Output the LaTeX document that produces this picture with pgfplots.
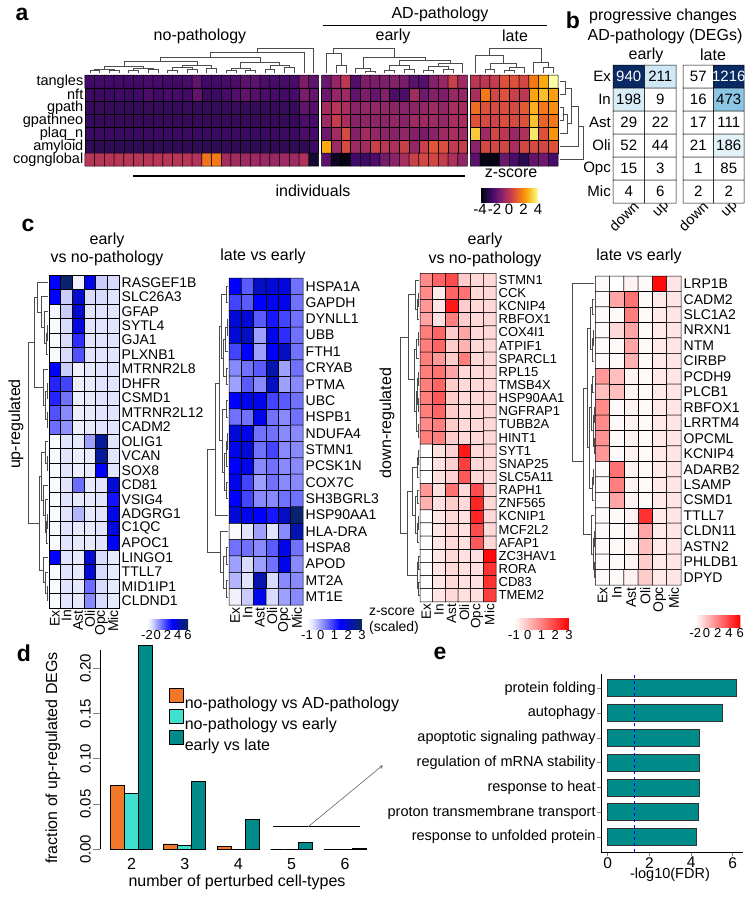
\documentclass[border=0pt]{standalone}
\usepackage{fontspec}
\setmainfont{Liberation Sans}
\usepackage{pgfplots}
\pgfplotsset{compat=1.18}
\usetikzlibrary{calc}

\newcommand{\fz}[1]{\fontsize{#1}{#1}\selectfont}
\definecolor{orR}{RGB}{240,120,40}
\definecolor{turq}{RGB}{64,224,208}
\definecolor{dcyan}{RGB}{0,139,139}
\tikzset{dendro/.style={black!70, line width=0.6pt}}

% dendrogram links: pos a, height a, pos b, height b, join height (heights in px)
\newcommand{\cl}[5]{\draw[dendro] (#1,{\cz-\cs*(#2)}) -- (#1,{\cz-\cs*(#5)}) -- (#3,{\cz-\cs*(#5)}) -- (#3,{\cz-\cs*(#4)});}
\newcommand{\rl}[5]{\draw[dendro] ({\rz-\rs*(#2)},#1) -- ({\rz-\rs*(#5)},#1) -- ({\rz-\rs*(#5)},#3) -- ({\rz-\rs*(#4)},#3);}
\newcommand{\rr}[5]{\draw[dendro] ({\rz+\rs*(#2)},#1) -- ({\rz+\rs*(#5)},#1) -- ({\rz+\rs*(#5)},#3) -- ({\rz+\rs*(#4)},#3);}
\newcommand{\cnum}[3]{\node[font=\fz{15}] at (axis cs:#1,#2) {#3};}
\newcommand{\wnum}[3]{\node[font=\fz{15}, text=white] at (axis cs:#1,#2) {#3};}

\pgfplotsset{
  /pgf/number format/assume math mode=true,
  colormap={inferno}{rgb255=(0,0,4) rgb255=(22,11,57) rgb255=(66,10,104) rgb255=(106,23,110) rgb255=(147,38,103) rgb255=(188,55,84) rgb255=(221,81,58) rgb255=(243,120,25) rgb255=(252,165,10) rgb255=(246,215,70) rgb255=(252,255,164)},
  colormap={blues}{rgb255(0cm)=(255,255,255) rgb255(1cm)=(225,228,252) rgb255(6cm)=(0,0,255) rgb255(10cm)=(10,40,90)},
  colormap={reds}{rgb255=(255,255,255) rgb255=(255,0,0)},
  colormap={degs}{rgb255(0cm)=(255,255,255) rgb255(1.5cm)=(255,255,255) rgb255(2.1cm)=(208,232,245) rgb255(4.7cm)=(140,200,230) rgb255(9cm)=(10,42,100) rgb255(12.16cm)=(10,42,100)},
  hm/.style={scale only axis, anchor=north west, y dir=reverse, axis line style={draw=none},
    major tick length=0pt, clip=false, enlargelimits=false},
  cells/.style={matrix plot*, mesh/ordering=x varies, mesh/cols=#1, point meta=explicit,
    shader=faceted, faceted color=black, line width=0.5pt},
  cb/.style n args={4}{colorbar horizontal, colorbar style={at={($(parent axis.south west)+(#1pt,#2pt)$)},
    anchor=north west, scale only axis, width=#3pt, height=#4pt, axis line style={draw=none},
    major tick length=0pt, xticklabel style={font=\fz{13}, inner sep=1pt}}},
}

\begin{document}
\begin{tikzpicture}[font=\fz{14}]
\path[use as bounding box] (0,0) rectangle (754pt,-900pt);

%% ---------- a ----------
\def\cz{-0.5}\def\cs{0.0769}
\def\rz{48.1}\def\rs{0.1028}
\begin{axis}[hm, at={(85pt,-75pt)}, width=473pt, height=91pt,
  xmin=-0.5, xmax=48.1, ymin=-0.5, ymax=6.5, xtick=\empty,
  ytick={0,...,6}, yticklabels={tangles,nft,gpath,gpathneo,plaq\_n,amyloid,cognglobal},
  yticklabel style={font=\fz{14.5}, inner sep=1.5pt},
  colormap name=inferno, point meta min=-4, point meta max=4,
  cb={395}{-14}{58}{14}, colorbar style={xtick={-4,-2,0,2,4}, xticklabel style={font=\fz{15}}}]
% no-pathology
\addplot[cells=24] table[row sep=\\, meta=z, x expr={\coordindex-24*floor((\coordindex+0.5)/24)}, y expr={floor((\coordindex+0.5)/24)}] {
z\\
-2.4\\-2.4\\-2.4\\-2.4\\-2.4\\-2.4\\-2.3\\-2.3\\-2.4\\-2.4\\-2.3\\-1.8\\-2.4\\-2.4\\-2.3\\-2.2\\-1.9\\-1.9\\-2.2\\-2.3\\-2.3\\-2.3\\-1.2\\-1.8\\
-2.5\\-2.5\\-2.5\\-2.4\\-2.5\\-2.4\\-2.2\\-2.4\\-2.3\\-2.3\\-2.4\\-1.8\\-2.5\\-2.5\\-2.3\\-2.1\\-1.8\\-2.0\\-2.2\\-2.3\\-2.4\\-2.3\\-1.3\\-1.7\\
-2.6\\-2.6\\-2.6\\-2.6\\-2.6\\-2.6\\-2.6\\-2.6\\-2.6\\-2.6\\-2.6\\-2.6\\-2.6\\-2.6\\-2.6\\-2.6\\-2.6\\-2.6\\-2.6\\-2.6\\-2.6\\-2.6\\-1.8\\-2.0\\
-2.6\\-2.6\\-2.6\\-2.6\\-2.6\\-2.6\\-2.6\\-2.6\\-2.6\\-2.6\\-2.6\\-2.6\\-2.6\\-2.6\\-2.6\\-2.6\\-2.6\\-2.6\\-2.6\\-2.6\\-2.6\\-2.6\\-2.2\\-2.3\\
-2.5\\-2.5\\-2.5\\-2.5\\-2.5\\-2.5\\-2.5\\-2.5\\-2.5\\-2.5\\-2.5\\-2.5\\-2.5\\-2.5\\-2.5\\-2.5\\-2.5\\-2.5\\-2.5\\-2.5\\-2.5\\-2.5\\-2.2\\-2.3\\
-2.7\\-2.7\\-2.7\\-2.7\\-2.7\\-2.7\\-2.7\\-2.7\\-2.7\\-2.7\\-2.7\\-2.7\\-2.7\\-2.7\\-2.7\\-2.7\\-2.7\\-2.7\\-2.7\\-2.7\\-2.7\\-2.7\\-2.7\\-2.5\\
-0.1\\-0.1\\-0.1\\-0.1\\-0.1\\-0.1\\-0.1\\-0.1\\-0.1\\-0.1\\-0.1\\-0.2\\1.5\\1.6\\-0.5\\-0.5\\-0.6\\-0.6\\-0.7\\-0.7\\-0.6\\-0.6\\-0.3\\-3.3\\
};
% early
\addplot[cells=15] table[row sep=\\, meta=z, x expr={\coordindex-15*floor((\coordindex+0.5)/15)+24.3}, y expr={floor((\coordindex+0.5)/15)}] {
z\\
-1.6\\-0.8\\0.0\\-2.1\\-1.2\\-1.3\\-1.2\\-1.1\\-1.3\\-1.9\\-2.0\\-1.1\\-0.7\\0.3\\-0.6\\
-1.6\\-0.8\\-0.6\\-1.8\\-1.2\\-1.7\\-1.1\\-2.2\\-2.2\\-0.5\\-1.5\\-1.1\\-1.2\\-0.7\\-0.8\\
-0.5\\-0.1\\-0.4\\-1.0\\-0.8\\-0.8\\-0.8\\-0.9\\-1.0\\-0.9\\-0.8\\-0.6\\-0.8\\-0.4\\-0.5\\
-0.6\\0.2\\-0.4\\-1.0\\-0.9\\-0.9\\-0.9\\-0.8\\-1.0\\-0.6\\-0.6\\-0.6\\-0.8\\-0.4\\-0.4\\
-1.5\\-0.5\\0.6\\-1.1\\-0.5\\-0.8\\-0.9\\-1.0\\-0.8\\-1.1\\-1.3\\-1.0\\-0.6\\-0.4\\-0.6\\
2.5\\-0.6\\0.6\\-0.6\\-0.5\\0.3\\0.0\\-0.3\\0.3\\-0.8\\0.3\\0.9\\0.7\\0.1\\0.2\\
-1.9\\-3.6\\-3.8\\-2.4\\-2.5\\-2.2\\-1.4\\-1.0\\-0.4\\0.3\\0.5\\0.5\\0.2\\-0.3\\-0.8\\
};
% late
\addplot[cells=9] table[row sep=\\, meta=z, x expr={\coordindex-9*floor((\coordindex+0.5)/9)+39.6}, y expr={floor((\coordindex+0.5)/9)}] {
z\\
0.0\\0.0\\0.2\\0.8\\0.8\\0.5\\1.6\\2.5\\4.0\\
-0.4\\1.6\\0.5\\0.8\\0.3\\0.0\\2.4\\2.8\\2.3\\
1.4\\0.8\\0.6\\0.7\\0.6\\1.0\\2.6\\1.6\\2.0\\
0.8\\0.6\\0.4\\0.7\\0.6\\0.8\\2.9\\1.2\\1.6\\
3.0\\-0.6\\0.5\\0.0\\-0.7\\-0.3\\3.5\\0.8\\2.1\\
-1.0\\0.5\\0.5\\0.5\\-0.4\\0.5\\0.6\\0.5\\0.8\\
-1.9\\-3.7\\-3.7\\-1.6\\-2.3\\-2.8\\-1.8\\-1.5\\-2.3\\
};
% column dendrograms
\cl{0}{2}{1}{2}{4.5}\cl{2}{2}{3}{2}{4.5}\cl{0.5}{4.5}{2.5}{4.5}{5.5}
\cl{4}{2}{5}{2}{5}\cl{6}{2}{7}{2}{6}\cl{4.5}{5}{6.5}{6}{7}\cl{1.5}{5.5}{5.5}{7}{9}
\cl{8}{2}{9}{2}{5}\cl{10}{2}{11}{2}{6}\cl{8.5}{5}{10.5}{6}{8}\cl{12}{2}{13}{2}{7}
\cl{9.5}{8}{12.5}{7}{10}\cl{3.5}{9}{11}{10}{14}
\cl{14}{2}{15}{2}{5}\cl{16}{2}{17}{2}{5}\cl{14.5}{5}{16.5}{5}{7}
\cl{18}{2}{19}{2}{6}\cl{20}{2}{21}{2}{8}\cl{18.5}{6}{20.5}{8}{10}\cl{15.5}{7}{19.5}{10}{13}
\cl{7.25}{14}{17.5}{13}{18}\cl{12.375}{18}{22}{2}{23}\cl{17.19}{23}{23}{2}{27}
\cl{25.3}{2}{26.3}{2}{10}\cl{24.3}{2}{25.8}{10}{22}
\cl{28.3}{2}{29.3}{2}{4}\cl{27.3}{2}{28.8}{4}{7}
\cl{30.3}{2}{31.3}{2}{5}\cl{32.3}{2}{33.3}{2}{6}\cl{30.8}{5}{32.8}{6}{10}
\cl{34.3}{2}{35.3}{2}{5}\cl{36.3}{2}{37.3}{2}{6}\cl{34.8}{5}{36.8}{6}{9}\cl{35.8}{9}{38.3}{2}{12}
\cl{31.8}{10}{37.05}{12}{15}\cl{28.05}{7}{34.425}{15}{18}\cl{25.05}{22}{31.24}{18}{27}
\cl{40.6}{2}{41.6}{2}{6}\cl{42.6}{2}{43.6}{2}{5}\cl{43.1}{5}{44.6}{2}{8}\cl{41.1}{6}{43.85}{8}{12}
\cl{39.6}{2}{42.475}{12}{20}\cl{46.6}{2}{47.6}{2}{8}\cl{45.6}{2}{47.1}{8}{13}\cl{41.04}{20}{46.35}{13}{27}
% row dendrogram
\rr{0}{2}{1}{2}{7}\rr{2}{2}{3}{2}{5}\rr{2.5}{5}{4}{2}{9}\rr{0.5}{7}{3.25}{9}{13}
\rr{1.875}{13}{5}{2}{20}\rr{3.44}{20}{6}{2}{25}
\end{axis}

%% ---------- b ----------
\begin{axis}[hm, at={(613pt,-65pt)}, width=63pt, height=138pt,
  xmin=-0.5, xmax=1.5, ymin=-0.5, ymax=5.5,
  xtick={0,1}, xticklabels={down,up}, xticklabel style={rotate=45, anchor=north east, xshift=5pt, font=\fz{14.5}, inner sep=0.5pt},
  ytick={0,...,5}, yticklabels={Ex,In,Ast,Oli,Opc,Mic}, yticklabel style={font=\fz{15}, inner sep=2pt},
  colormap name=degs, point meta min=0, point meta max=1216]
\addplot[cells=2] table[row sep=\\, meta=z, x expr={\coordindex-2*floor((\coordindex+0.5)/2)}, y expr={floor((\coordindex+0.5)/2)}] {
z\\ 940\\211\\ 198\\9\\ 29\\22\\ 52\\44\\ 15\\3\\ 4\\6\\
};
\wnum{0}{0}{940}\cnum{1}{0}{211}\cnum{0}{1}{198}\cnum{1}{1}{9}\cnum{0}{2}{29}\cnum{1}{2}{22}
\cnum{0}{3}{52}\cnum{1}{3}{44}\cnum{0}{4}{15}\cnum{1}{4}{3}\cnum{0}{5}{4}\cnum{1}{5}{6}
\end{axis}
\begin{axis}[hm, at={(683pt,-65pt)}, width=61pt, height=138pt,
  xmin=-0.5, xmax=1.5, ymin=-0.5, ymax=5.5,
  xtick={0,1}, xticklabels={down,up}, xticklabel style={rotate=45, anchor=north east, xshift=5pt, font=\fz{14.5}, inner sep=0.5pt},
  ytick=\empty,
  colormap name=degs, point meta min=0, point meta max=1216]
\addplot[cells=2] table[row sep=\\, meta=z, x expr={\coordindex-2*floor((\coordindex+0.5)/2)}, y expr={floor((\coordindex+0.5)/2)}] {
z\\ 57\\1216\\ 16\\473\\ 17\\111\\ 21\\186\\ 1\\85\\ 2\\2\\
};
\cnum{0}{0}{57}\wnum{1}{0}{1216}\cnum{0}{1}{16}\cnum{1}{1}{473}\cnum{0}{2}{17}\cnum{1}{2}{111}
\cnum{0}{3}{21}\cnum{1}{3}{186}\cnum{0}{4}{1}\cnum{1}{4}{85}\cnum{0}{5}{2}\cnum{1}{5}{2}
\end{axis}

%% ---------- c1: early vs no-pathology, up ----------
\def\rz{-0.5}\def\rs{0.0857}
\begin{axis}[hm, at={(49pt,-275pt)}, width=70pt, height=333pt,
  xmin=-0.5, xmax=5.5, ymin=-0.5, ymax=22.5,
  xtick={0,...,5}, xticklabels={Ex,In,Ast,Oli,Opc,Mic},
  xticklabel style={rotate=90, anchor=east, font=\fz{14}, inner sep=2pt},
  ytick={0,...,22}, yticklabel pos=right, yticklabel style={font=\fz{14}, inner sep=2.5pt},
  yticklabels={RASGEF1B,SLC26A3,GFAP,SYTL4,GJA1,PLXNB1,MTRNR2L8,DHFR,CSMD1,MTRNR2L12,CADM2,OLIG1,VCAN,SOX8,CD81,VSIG4,ADGRG1,C1QC,APOC1,LINGO1,TTLL7,MID1IP1,CLDND1},
  colormap name=blues, point meta min=0, point meta max=1,
  cb={98}{-3}{41}{10}, colorbar style={xtick={0,0.25,0.5,0.75,1}, xticklabels={-2,0,2,4,6}}]
\addplot[cells=6] table[row sep=\\, meta=z, x expr={\coordindex-6*floor((\coordindex+0.5)/6)}, y expr={floor((\coordindex+0.5)/6)}] {
z\\
0.60\\0.95\\0.05\\0.65\\0.15\\0.12\\
0.60\\0.15\\0.72\\0.12\\0.12\\0.10\\
0.03\\0.15\\0.72\\0.10\\0.10\\0.10\\
0.02\\0.12\\0.68\\0.10\\0.10\\0.10\\
0.02\\0.12\\0.50\\0.10\\0.10\\0.10\\
0.02\\0.12\\0.42\\0.10\\0.10\\0.10\\
0.62\\0.15\\0.05\\0.08\\0.10\\0.10\\
0.52\\0.45\\0.06\\0.08\\0.10\\0.10\\
0.52\\0.35\\0.06\\0.08\\0.10\\0.10\\
0.42\\0.30\\0.06\\0.08\\0.10\\0.10\\
0.36\\0.28\\0.06\\0.08\\0.10\\0.10\\
0.02\\0.10\\0.08\\0.25\\0.85\\0.10\\
0.02\\0.10\\0.06\\0.08\\0.85\\0.10\\
0.02\\0.10\\0.06\\0.08\\0.62\\0.10\\
0.02\\0.10\\0.36\\0.08\\0.10\\0.70\\
0.02\\0.10\\0.08\\0.08\\0.10\\0.56\\
0.02\\0.10\\0.20\\0.08\\0.10\\0.66\\
0.02\\0.10\\0.08\\0.08\\0.10\\0.68\\
0.02\\0.10\\0.08\\0.08\\0.10\\0.62\\
0.60\\0.10\\0.08\\0.70\\0.12\\0.08\\
0.02\\0.10\\0.08\\0.70\\0.12\\0.08\\
0.02\\0.10\\0.08\\0.36\\0.12\\0.08\\
0.02\\0.10\\0.08\\0.30\\0.12\\0.08\\
};
\rl{3}{1}{4}{1}{2}\rl{3.5}{2}{5}{1}{3}\rl{2}{1}{4.25}{3}{5}\rl{1}{1}{3.125}{5}{8}\rl{0}{1}{2.06}{8}{12}
\rl{7}{1}{8}{1}{2}\rl{9}{1}{10}{1}{2}\rl{7.5}{2}{9.5}{2}{4}\rl{6}{1}{8.5}{4}{6}\rl{1.03}{12}{7.25}{6}{15}
\rl{12}{1}{13}{1}{2}\rl{11}{1}{12.5}{2}{4}
\rl{16}{1}{17}{1}{2}\rl{16.5}{2}{18}{1}{3}\rl{15}{1}{17.25}{3}{4}\rl{14}{1}{16.1}{4}{6}\rl{11.75}{4}{15.05}{6}{8}
\rl{21}{1}{22}{1}{2}\rl{20}{1}{21.5}{2}{4}\rl{19}{1}{20.75}{4}{6}\rl{13.4}{8}{19.9}{6}{10}
\rl{4.14}{15}{16.65}{10}{21}
\end{axis}

%% ---------- c2: late vs early, up ----------
\def\rz{-0.5}\def\rs{0.0811}
\begin{axis}[hm, at={(229pt,-278pt)}, width=74pt, height=327pt,
  xmin=-0.5, xmax=5.5, ymin=-0.5, ymax=19.5,
  xtick={0,...,5}, xticklabels={Ex,In,Ast,Oli,Opc,Mic},
  xticklabel style={rotate=90, anchor=east, font=\fz{14}, inner sep=2pt},
  ytick={0,...,19}, yticklabel pos=right, yticklabel style={font=\fz{14}, inner sep=2.5pt},
  yticklabels={HSPA1A,GAPDH,DYNLL1,UBB,FTH1,CRYAB,PTMA,UBC,HSPB1,NDUFA4,STMN1,PCSK1N,COX7C,SH3BGRL3,HSP90AA1,HLA-DRA,HSPA8,APOD,MT2A,MT1E},
  colormap name=blues, point meta min=0, point meta max=1,
  cb={78}{-6}{55}{10}, colorbar style={xtick={0,0.25,0.5,0.75,1}, xticklabels={-1,0,1,2,3}}]
\addplot[cells=6] table[row sep=\\, meta=z, x expr={\coordindex-6*floor((\coordindex+0.5)/6)}, y expr={floor((\coordindex+0.5)/6)}] {
z\\
0.60\\0.40\\0.75\\0.70\\0.68\\0.35\\
0.45\\0.40\\0.60\\0.65\\0.65\\0.35\\
0.70\\0.70\\0.40\\0.55\\0.45\\0.35\\
0.70\\0.75\\0.25\\0.65\\0.50\\0.35\\
0.45\\0.60\\0.25\\0.60\\0.75\\0.35\\
0.30\\0.35\\0.40\\0.80\\0.25\\0.35\\
0.25\\0.40\\0.30\\0.75\\0.25\\0.30\\
0.60\\0.65\\0.65\\0.45\\0.40\\0.35\\
0.35\\0.35\\0.65\\0.35\\0.30\\0.35\\
0.70\\0.65\\0.35\\0.35\\0.30\\0.30\\
0.65\\0.70\\0.35\\0.45\\0.30\\0.30\\
0.60\\0.65\\0.30\\0.35\\0.30\\0.30\\
0.65\\0.45\\0.25\\0.35\\0.30\\0.30\\
0.60\\0.45\\0.30\\0.30\\0.35\\0.35\\
0.70\\0.65\\0.60\\0.55\\0.75\\0.95\\
0.02\\0.10\\0.25\\0.10\\0.30\\0.80\\
0.35\\0.35\\0.30\\0.40\\0.65\\0.35\\
0.25\\0.12\\0.25\\0.35\\0.65\\0.30\\
0.20\\0.10\\0.80\\0.12\\0.30\\0.30\\
0.05\\0.15\\0.65\\0.12\\0.25\\0.30\\
};
\rl{0}{1}{1}{1}{3}\rl{2}{1}{3}{1}{2}\rl{2.5}{2}{4}{1}{4}\rl{5}{1}{6}{1}{3}\rl{3.25}{4}{5.5}{3}{6}\rl{0.5}{3}{4.4}{6}{8}
\rl{7}{1}{8}{1}{3}\rl{9}{1}{10}{1}{2}\rl{9.5}{2}{11}{1}{3}\rl{12}{1}{13}{1}{3}\rl{10.25}{3}{12.5}{3}{5}\rl{7.5}{3}{11.4}{5}{7}
\rl{2.45}{8}{9.45}{7}{10}\rl{5.95}{10}{14}{1}{14}
\rl{16}{1}{17}{1}{3}\rl{18}{1}{19}{1}{3}\rl{16.5}{3}{18.5}{3}{6}\rl{15}{1}{17.5}{6}{9}
\rl{9.98}{14}{16.25}{9}{22}
\end{axis}

%% ---------- c3: early vs no-pathology, down ----------
\def\rz{-0.5}\def\rs{0.0789}
\begin{axis}[hm, at={(420pt,-273.3pt)}, width=76pt, height=328.5pt,
  xmin=-0.5, xmax=5.5, ymin=-0.5, ymax=24.5,
  xtick={0,...,5}, xticklabels={Ex,In,Ast,Oli,Opc,Mic},
  xticklabel style={rotate=90, anchor=east, font=\fz{13.5}, inner sep=2pt},
  ytick={0,...,24}, yticklabel pos=right, yticklabel style={font=\fz{13}, inner sep=2.5pt},
  yticklabels={STMN1,CCK,KCNIP4,RBFOX1,COX4I1,ATPIF1,SPARCL1,RPL15,TMSB4X,HSP90AA1,NGFRAP1,TUBB2A,HINT1,SYT1,SNAP25,SLC5A11,RAPH1,ZNF565,KCNIP1,MCF2L2,AFAP1,ZC3HAV1,RORA,CD83,TMEM2},
  colormap name=reds, point meta min=0, point meta max=1,
  cb={94}{-8}{55}{11}, colorbar style={xtick={0,0.25,0.5,0.75,1}, xticklabels={-1,0,1,2,3}}]
\addplot[cells=6] table[row sep=\\, meta=z, x expr={\coordindex-6*floor((\coordindex+0.5)/6)}, y expr={floor((\coordindex+0.5)/6)}] {
z\\
0.45\\0.60\\0.70\\0.20\\0.15\\0.15\\
0.45\\0.08\\0.60\\0.55\\0.15\\0.15\\
0.40\\0.10\\0.90\\0.20\\0.15\\0.15\\
0.35\\0.12\\0.50\\0.20\\0.15\\0.15\\
0.50\\0.60\\0.20\\0.35\\0.15\\0.15\\
0.50\\0.60\\0.20\\0.30\\0.15\\0.15\\
0.50\\0.40\\0.20\\0.50\\0.15\\0.15\\
0.50\\0.55\\0.35\\0.15\\0.15\\0.15\\
0.50\\0.60\\0.20\\0.15\\0.15\\0.15\\
0.50\\0.65\\0.20\\0.15\\0.15\\0.15\\
0.50\\0.60\\0.20\\0.15\\0.15\\0.15\\
0.45\\0.50\\0.20\\0.15\\0.15\\0.15\\
0.50\\0.50\\0.20\\0.15\\0.15\\0.15\\
0.00\\0.12\\0.18\\0.90\\0.15\\0.15\\
0.00\\0.12\\0.18\\0.75\\0.15\\0.15\\
0.00\\0.12\\0.18\\0.65\\0.15\\0.15\\
0.40\\0.12\\0.55\\0.15\\0.70\\0.15\\
0.30\\0.12\\0.20\\0.15\\0.85\\0.15\\
0.00\\0.10\\0.15\\0.12\\0.85\\0.15\\
0.00\\0.10\\0.15\\0.12\\0.70\\0.15\\
0.00\\0.10\\0.15\\0.12\\0.65\\0.15\\
0.00\\0.10\\0.15\\0.12\\0.12\\0.95\\
0.00\\0.10\\0.15\\0.12\\0.12\\0.80\\
0.00\\0.10\\0.15\\0.12\\0.12\\0.80\\
0.00\\0.10\\0.15\\0.12\\0.12\\0.75\\
};
\rl{1}{1}{2}{1}{2}\rl{1.5}{2}{3}{1}{3}\rl{0}{1}{2.25}{3}{5}
\rl{4}{1}{5}{1}{2}\rl{4.5}{2}{6}{1}{4}\rl{7}{1}{8}{1}{2}\rl{9}{1}{10}{1}{2}\rl{7.5}{2}{9.5}{2}{3}
\rl{11}{1}{12}{1}{2}\rl{8.5}{3}{11.5}{2}{4}\rl{5.25}{4}{10}{4}{6}\rl{1.1}{5}{7.6}{6}{12}
\rl{13}{1}{14}{1}{2}\rl{13.5}{2}{15}{1}{3}\rl{16}{1}{17}{1}{3}\rl{18}{1}{19}{1}{2}\rl{18.5}{2}{20}{1}{3}
\rl{16.5}{3}{19.25}{3}{5}\rl{14.25}{3}{17.9}{5}{8}
\rl{21}{1}{22}{1}{1.5}\rl{23}{1}{24}{1}{1.5}\rl{21.5}{1.5}{23.5}{1.5}{2.5}\rl{16.1}{8}{22.5}{2.5}{13}
\rl{4.35}{12}{19.3}{13}{20}
\end{axis}

%% ---------- c4: late vs early, down ----------
\def\rz{-0.5}\def\rs{0.0698}
\begin{axis}[hm, at={(595.3pt,-276pt)}, width=85.7pt, height=309pt,
  xmin=-0.5, xmax=5.5, ymin=-0.5, ymax=19.5,
  xtick={0,...,5}, xticklabels={Ex,In,Ast,Oli,Opc,Mic},
  xticklabel style={rotate=90, anchor=east, font=\fz{14}, inner sep=2pt},
  ytick={0,...,19}, yticklabel pos=right, yticklabel style={font=\fz{14}, inner sep=2.5pt},
  yticklabels={LRP1B,CADM2,SLC1A2,NRXN1,NTM,CIRBP,PCDH9,PLCB1,RBFOX1,LRRTM4,OPCML,KCNIP4,ADARB2,LSAMP,CSMD1,TTLL7,CLDN11,ASTN2,PHLDB1,DPYD},
  colormap name=reds, point meta min=0, point meta max=1,
  cb={100}{-22}{45}{12}, colorbar style={xtick={0,0.25,0.5,0.75,1}, xticklabels={-2,0,2,4,6}}]
\addplot[cells=6] table[row sep=\\, meta=z, x expr={\coordindex-6*floor((\coordindex+0.5)/6)}, y expr={floor((\coordindex+0.5)/6)}] {
z\\
0.02\\0.00\\0.05\\0.02\\0.95\\0.10\\
0.02\\0.35\\0.55\\0.02\\0.08\\0.10\\
0.02\\0.02\\0.50\\0.02\\0.08\\0.10\\
0.02\\0.15\\0.35\\0.02\\0.08\\0.10\\
0.02\\0.02\\0.35\\0.02\\0.08\\0.10\\
0.02\\0.02\\0.30\\0.02\\0.08\\0.10\\
0.40\\0.25\\0.05\\0.02\\0.08\\0.10\\
0.25\\0.25\\0.05\\0.02\\0.08\\0.10\\
0.45\\0.02\\0.05\\0.02\\0.08\\0.10\\
0.45\\0.02\\0.05\\0.02\\0.08\\0.10\\
0.42\\0.02\\0.05\\0.02\\0.08\\0.10\\
0.40\\0.02\\0.05\\0.02\\0.08\\0.10\\
0.02\\0.55\\0.05\\0.02\\0.08\\0.10\\
0.02\\0.50\\0.05\\0.02\\0.08\\0.10\\
0.02\\0.35\\0.05\\0.02\\0.08\\0.10\\
0.02\\0.02\\0.05\\0.80\\0.08\\0.10\\
0.02\\0.02\\0.05\\0.35\\0.08\\0.10\\
0.02\\0.02\\0.05\\0.25\\0.08\\0.10\\
0.02\\0.02\\0.05\\0.20\\0.08\\0.10\\
0.02\\0.02\\0.05\\0.20\\0.08\\0.10\\
};
\rl{1}{1}{2}{1}{3}\rl{3}{1}{4}{1}{2}\rl{3.5}{2}{5}{1}{3}\rl{1.5}{3}{4.25}{3}{5}
\rl{6}{1}{7}{1}{3}\rl{8}{1}{9}{1}{1.5}\rl{10}{1}{11}{1}{1.5}\rl{8.5}{1.5}{10.5}{1.5}{2.5}\rl{6.5}{3}{9.5}{2.5}{4}
\rl{12}{1}{13}{1}{2}\rl{12.5}{2}{14}{1}{3}\rl{8}{4}{13.25}{3}{6}\rl{2.9}{5}{10.6}{6}{8}
\rl{16}{1}{17}{1}{1.5}\rl{18}{1}{19}{1}{1.5}\rl{16.5}{1.5}{18.5}{1.5}{2.5}\rl{15}{1}{17.5}{2.5}{4}
\rl{6.75}{8}{16.25}{4}{12}\rl{0}{1}{11.5}{12}{23}
\end{axis}

%% ---------- d ----------
\begin{axis}[at={(100pt,-849.3pt)}, anchor=south west, scale only axis, width=269pt, height=199pt,
  xmin=1.41, xmax=6.45, ymin=0, ymax=0.22, clip=false,
  axis lines=left, axis line style={-, line width=0.8pt}, x axis line style={draw=none},
  tick align=outside, major tick length=7pt, tick style={line width=0.8pt},
  xtick={2,...,6}, xtick style={draw=none}, xticklabel style={font=\fz{16}, inner sep=2pt},
  ytick={0,0.05,0.1,0.15,0.2},
  yticklabel style={rotate=90, anchor=south, font=\fz{15}, inner sep=2pt,
    /pgf/number format/.cd, fixed, fixed zerofill, precision=2},
  legend style={at={(0.245,0.82)}, anchor=north west, draw=none, fill=none, font=\fz{16},
    row sep=-1.5pt, nodes={inner sep=0.8pt}},
  legend cell align=left]
\addlegendimage{legend image code/.code={\draw[fill=orR, draw=black, line width=0.8pt] (0pt,-7pt) rectangle (14pt,7pt);}}
\addlegendentry{no-pathology vs AD-pathology}
\addlegendimage{legend image code/.code={\draw[fill=turq, draw=black, line width=0.8pt] (0pt,-7pt) rectangle (14pt,7pt);}}
\addlegendentry{no-pathology vs early}
\addlegendimage{legend image code/.code={\draw[fill=dcyan, draw=black, line width=0.8pt] (0pt,-7pt) rectangle (14pt,7pt);}}
\addlegendentry{early vs late}
\addplot[forget plot, ybar, bar width=14pt, bar shift=-14pt, fill=orR, draw=black, line width=0.8pt]
  coordinates {(2,0.071) (3,0.0059) (4,0.003) (5,0) (6,0)};
\addplot[forget plot, ybar, bar width=14pt, bar shift=0pt, fill=turq, draw=black, line width=0.8pt]
  coordinates {(2,0.0613) (3,0.004) (4,0) (5,0) (6,0)};
\addplot[forget plot, ybar, bar width=14pt, bar shift=14pt, fill=dcyan, draw=black, line width=0.8pt]
  coordinates {(2,0.225) (3,0.0748) (4,0.0335) (5,0.0077) (6,0.001)};
\draw[line width=1.4pt] (axis cs:4.65,0.025) -- (axis cs:6.28,0.025);
\draw[-stealth, black!60, line width=0.6pt] (axis cs:5.31,0.025) -- (axis cs:6.71,0.093);
\end{axis}

%% ---------- e ----------
\begin{axis}[at={(601.3pt,-852pt)}, anchor=south west, scale only axis, width=141.2pt, height=178.5pt,
  xmin=-0.308, xmax=6.468, ymin=0.4, ymax=7.6, clip=false,
  axis lines=left, axis line style={-, line width=0.8pt},
  tick align=outside, major tick length=4pt, tick style={line width=0.7pt},
  xtick={0,2,4,6}, ytick={1,...,7},
  yticklabels={response to unfolded protein,proton transmembrane transport,response to heat,regulation of mRNA stability,apoptotic signaling pathway,autophagy,protein folding},
  yticklabel style={font=\fz{14.5}, inner sep=1.5pt}, xticklabel style={font=\fz{15.5}, inner sep=1pt}]
\addplot[xbar, bar width=17pt, fill=dcyan, draw=black!80, line width=0.8pt]
  coordinates {(4.27,1) (4.34,2) (4.40,3) (4.40,4) (4.40,5) (5.49,6) (6.16,7)};
\draw[blue, dashed, line width=0.8pt] (axis cs:1.28,0.4) -- (axis cs:1.28,7.6);
\end{axis}

%% ---------- text ----------
\begin{scope}[every node/.style={font=\fz{16}}]
\node[font=\fz{23}\bfseries] at (22pt,-14pt) {a};
\node[font=\fz{23}\bfseries] at (573pt,-20pt) {b};
\node[font=\fz{23}\bfseries] at (28pt,-225pt) {c};
\node[font=\fz{23}\bfseries] at (24pt,-653pt) {d};
\node[font=\fz{23}\bfseries] at (440pt,-653pt) {e};
\node at (200pt,-36pt) {no-pathology};
\node at (440pt,-14pt) {AD-pathology};
\draw[line width=1pt] (323pt,-25pt) -- (547pt,-25pt);
\node at (393pt,-36pt) {early};
\node at (515pt,-36pt) {late};
\draw[line width=1.2pt] (133pt,-176pt) -- (465pt,-176pt);
\node at (313pt,-191pt) {individuals};
\node at (511pt,-173pt) {z-score};
\node at (663pt,-16pt) {progressive changes};
\node at (665pt,-36pt) {AD-pathology (DEGs)};
\node at (646pt,-55pt) {early};
\node at (713pt,-55pt) {late};
\node at (107pt,-240pt) {early};
\node at (107pt,-258pt) {vs no-pathology};
\node at (263pt,-256pt) {late vs early};
\node at (485pt,-240pt) {early};
\node at (485pt,-259pt) {vs no-pathology};
\node at (639pt,-256pt) {late vs early};
\node[rotate=90] at (16pt,-424pt) {up-regulated};
\node[rotate=90] at (387pt,-423pt) {down-regulated};
\node[font=\fz{14}] at (392pt,-612pt) {z-score};
\node[font=\fz{14}] at (394pt,-628pt) {(scaled)};
\node[rotate=90] at (53pt,-758pt) {fraction of up-regulated DEGs};
\node at (237pt,-882pt) {number of perturbed cell-types};
\node[font=\fz{14.5}] at (670pt,-875pt) {-log10(FDR)};
\end{scope}
\end{tikzpicture}
\end{document}
